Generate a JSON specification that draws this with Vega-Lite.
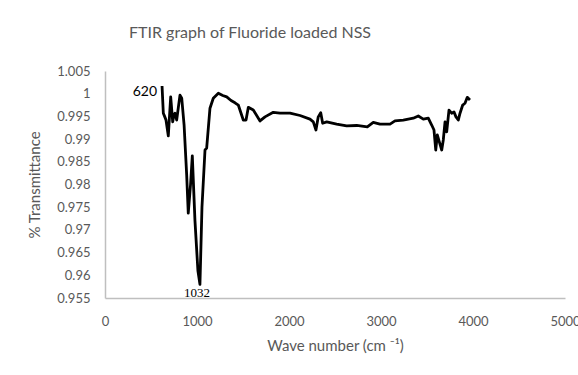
{
  "$schema": "https://vega.github.io/schema/vega-lite/v6.json",
  "width": 460,
  "height": 227,
  "autosize": "none",
  "padding": {"left": 105, "top": 71, "right": 13, "bottom": 77},
  "background": "white",
  "config": {"view": {"stroke": null}, "font": "Lato"},
  "title": {
    "text": "FTIR graph of Fluoride loaded NSS",
    "font": "Lato",
    "fontSize": 16,
    "fontWeight": "normal",
    "color": "#595959",
    "anchor": "middle",
    "dx": -85,
    "offset": 24
  },
  "datasets": {
    "spectrum": [
      {"wn": 620, "t": 1.0017},
      {"wn": 634, "t": 0.9957},
      {"wn": 648, "t": 0.9950},
      {"wn": 663, "t": 0.9942},
      {"wn": 688, "t": 0.9907},
      {"wn": 714, "t": 0.9993},
      {"wn": 736, "t": 0.9938},
      {"wn": 748, "t": 0.9952},
      {"wn": 761, "t": 0.9957},
      {"wn": 779, "t": 0.9942},
      {"wn": 815, "t": 0.9997},
      {"wn": 834, "t": 0.9990},
      {"wn": 860, "t": 0.9930},
      {"wn": 888, "t": 0.9820},
      {"wn": 905, "t": 0.9737},
      {"wn": 930, "t": 0.9800},
      {"wn": 949, "t": 0.9863},
      {"wn": 978, "t": 0.9720},
      {"wn": 1010, "t": 0.9610},
      {"wn": 1032, "t": 0.9580},
      {"wn": 1054, "t": 0.9750},
      {"wn": 1087, "t": 0.9876},
      {"wn": 1105, "t": 0.9880},
      {"wn": 1141, "t": 0.9968},
      {"wn": 1177, "t": 0.9990},
      {"wn": 1232, "t": 1.0001},
      {"wn": 1280, "t": 0.9996},
      {"wn": 1323, "t": 0.9993},
      {"wn": 1370, "t": 0.9985},
      {"wn": 1413, "t": 0.9980},
      {"wn": 1449, "t": 0.9975},
      {"wn": 1503, "t": 0.9942},
      {"wn": 1533, "t": 0.9942},
      {"wn": 1558, "t": 0.9970},
      {"wn": 1612, "t": 0.9964},
      {"wn": 1685, "t": 0.9940},
      {"wn": 1739, "t": 0.9949},
      {"wn": 1829, "t": 0.9959},
      {"wn": 1902, "t": 0.9957},
      {"wn": 2011, "t": 0.9957},
      {"wn": 2120, "t": 0.9952},
      {"wn": 2228, "t": 0.9944},
      {"wn": 2264, "t": 0.9938},
      {"wn": 2293, "t": 0.9920},
      {"wn": 2318, "t": 0.9949},
      {"wn": 2345, "t": 0.9958},
      {"wn": 2366, "t": 0.9935},
      {"wn": 2410, "t": 0.9938},
      {"wn": 2518, "t": 0.9933},
      {"wn": 2627, "t": 0.9929},
      {"wn": 2736, "t": 0.9930},
      {"wn": 2851, "t": 0.9927},
      {"wn": 2916, "t": 0.9937},
      {"wn": 2989, "t": 0.9933},
      {"wn": 3098, "t": 0.9933},
      {"wn": 3152, "t": 0.9940},
      {"wn": 3242, "t": 0.9942},
      {"wn": 3351, "t": 0.9946},
      {"wn": 3405, "t": 0.9951},
      {"wn": 3460, "t": 0.9944},
      {"wn": 3514, "t": 0.9946},
      {"wn": 3551, "t": 0.9931},
      {"wn": 3576, "t": 0.9920},
      {"wn": 3595, "t": 0.9876},
      {"wn": 3612, "t": 0.9909},
      {"wn": 3634, "t": 0.9894},
      {"wn": 3660, "t": 0.9876},
      {"wn": 3677, "t": 0.9898},
      {"wn": 3696, "t": 0.9938},
      {"wn": 3714, "t": 0.9916},
      {"wn": 3739, "t": 0.9964},
      {"wn": 3768, "t": 0.9957},
      {"wn": 3793, "t": 0.9960},
      {"wn": 3815, "t": 0.9949},
      {"wn": 3840, "t": 0.9942},
      {"wn": 3859, "t": 0.9957},
      {"wn": 3888, "t": 0.9975},
      {"wn": 3913, "t": 0.9979},
      {"wn": 3938, "t": 0.9992},
      {"wn": 3967, "t": 0.9986}
    ],
    "peaks": [
      {"wn": 620, "t": 1.0017, "label": "620"},
      {"wn": 1032, "t": 0.9580, "label": "1032"}
    ]
  },
  "encoding": {
    "x": {
      "field": "wn",
      "type": "quantitative",
      "scale": {"domain": [0, 5000], "nice": false, "zero": false},
      "axis": {
        "values": [0, 1000, 2000, 3000, 4000, 5000],
        "format": "d",
        "title": "Wave number (cm ⁻¹)",
        "grid": false,
        "ticks": false,
        "labelFlush": false,
        "domainColor": "#bfbfbf",
        "domainWidth": 1.5,
        "labelFont": "Lato",
        "labelFontSize": 13,
        "labelColor": "#595959",
        "labelPadding": 17,
        "titleFont": "Lato",
        "titleFontSize": 15,
        "titleFontWeight": "normal",
        "titleColor": "#595959",
        "titlePadding": 10
      }
    },
    "y": {
      "field": "t",
      "type": "quantitative",
      "scale": {"domain": [0.955, 1.005], "nice": false, "zero": false},
      "axis": {
        "values": [0.955, 0.96, 0.965, 0.97, 0.975, 0.98, 0.985, 0.99, 0.995, 1, 1.005],
        "labelExpr": "'' + datum.value",
        "title": "% Transmittance",
        "grid": false,
        "ticks": false,
        "labelFlush": false,
        "labelOverlap": false,
        "domainColor": "#bfbfbf",
        "domainWidth": 1.5,
        "labelFont": "Lato",
        "labelFontSize": 13,
        "labelColor": "#595959",
        "labelPadding": 15,
        "titleFont": "Lato",
        "titleFontSize": 15,
        "titleFontWeight": "normal",
        "titleColor": "#595959",
        "titlePadding": 14
      }
    }
  },
  "layer": [
    {
      "data": {"name": "spectrum"},
      "mark": {"type": "line", "color": "black", "strokeWidth": 2.8, "strokeJoin": "round"}
    },
    {
      "data": {"name": "peaks"},
      "transform": [{"filter": "datum.label == '620'"}],
      "mark": {"type": "text", "align": "right", "baseline": "middle", "dx": -5, "dy": 6, "font": "Lato", "fontSize": 14, "color": "black"},
      "encoding": {"text": {"field": "label"}}
    },
    {
      "data": {"name": "peaks"},
      "transform": [{"filter": "datum.label == '1032'"}],
      "mark": {"type": "text", "align": "center", "baseline": "top", "dx": -3, "dy": 3, "font": "Liberation Serif", "fontSize": 13, "color": "black"},
      "encoding": {"text": {"field": "label"}}
    }
  ]
}
